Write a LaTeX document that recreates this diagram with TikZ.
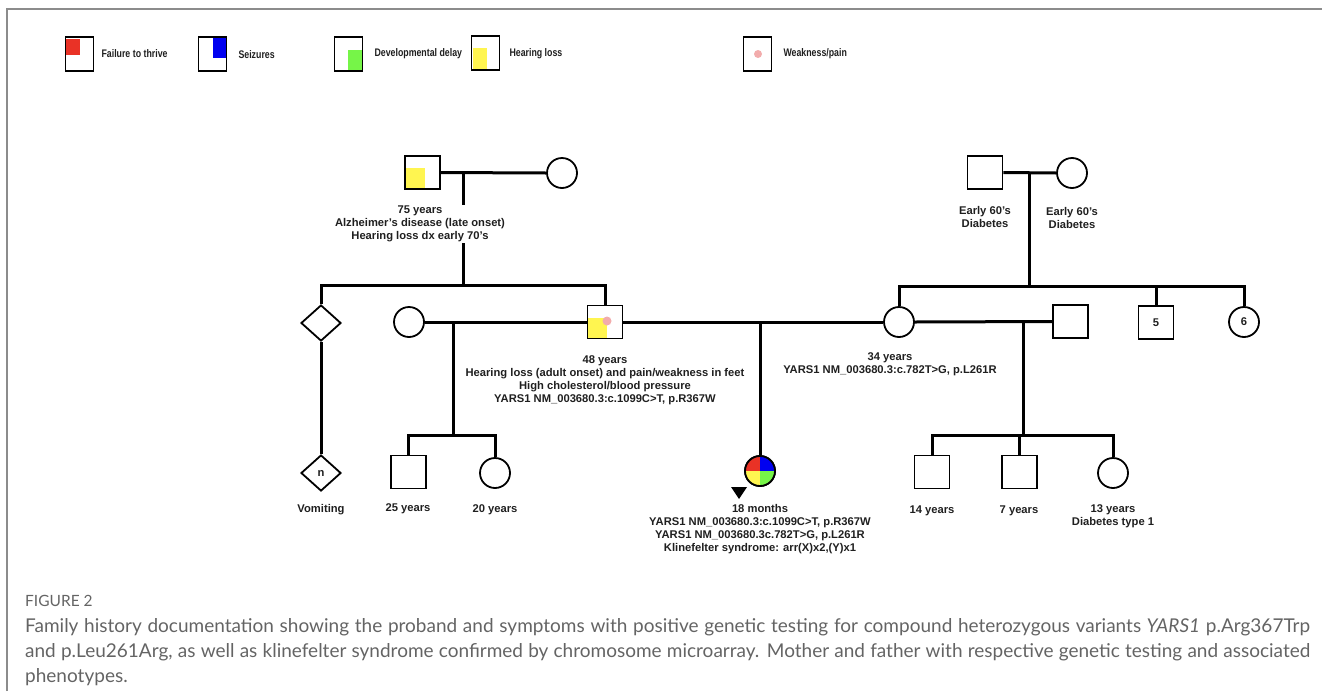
\documentclass[tikz,border=0pt]{standalone}
\usepackage{fontspec}
\setmainfont{Liberation Sans}
\newfontfamily\capfont{Lato}
\newfontfamily\narrowfont[FakeStretch=0.8]{Liberation Sans}
\usepackage{tikz}
\usetikzlibrary{shapes.geometric,positioning,calc}

\definecolor{fttred}{RGB}{233,50,38}
\definecolor{seizblue}{RGB}{0,0,240}
\definecolor{devgreen}{RGB}{118,245,72}
\definecolor{hearyellow}{RGB}{255,245,80}
\definecolor{weakpink}{RGB}{242,172,172}
\definecolor{framegray}{RGB}{140,140,140}
\definecolor{capgray}{RGB}{100,100,100}

\begin{document}
\begin{tikzpicture}[x=1pt, y=-1pt,
  every node/.style={font=\bfseries\fontsize{11.2}{13}\selectfont, text=black!88, align=center},
  male/.style={draw, line width=1.8pt, minimum width=35pt, minimum height=33pt, inner sep=0pt},
  female/.style={draw, circle, line width=1.8pt, minimum size=30pt, inner sep=0pt},
  sexunknown/.style={draw, diamond, line width=1.8pt, minimum width=40pt, minimum height=36pt, inner sep=0pt},
  legendbox/.style={draw, line width=1.6pt, minimum width=28pt, minimum height=34pt, inner sep=0pt},
  legendtext/.style={anchor=west, font=\narrowfont\bfseries\fontsize{11}{12}\selectfont},
  famline/.style={line width=3pt},
  captext/.style={anchor=west, inner sep=0pt, text=capgray, font=\capfont\fontsize{19}{22}\selectfont}]
    \useasboundingbox (0,0) rectangle (1322,691);
    \draw[framegray, line width=1.5pt] (7,691) -- (7,9) -- (1322,9);

    % Legend
    \node[legendbox] (keyftt) at (79.5,54) {};
    \fill[fttred] (66,39) rectangle (80,55);
    \node[legendtext] (keyfttlbl) at (98,54) {Failure to thrive};
    \node[legendbox] (keyseiz) at (212.5,54) {};
    \fill[seizblue] (213,38) rectangle (226,58);
    \node[legendtext] (keyseizlbl) at (235,55) {Seizures};
    \node[legendbox] (keydev) at (348.5,54) {};
    \fill[devgreen] (348,50) rectangle (362,70);
    \node[legendtext] (keydevlbl) at (371,54) {Developmental delay};
    \node[legendbox] (keyhear) at (485.5,53) {};
    \fill[hearyellow] (473,48) rectangle (487,69);
    \node[legendtext] (keyhearlbl) at (506,54) {Hearing loss};
    \node[legendbox] (keyweak) at (757.5,54) {};
    \fill[weakpink] (758,54) circle[radius=4];
    \node[legendtext] (keyweaklbl) at (780,54) {Weakness/pain};

    % Paternal side
    \node[male] (pgf) at (422.5,172.5) {};
    \fill[hearyellow] (406,168) rectangle (425,188);
    \node[female] (pgm) at (562,173) {};
    \coordinate (pgd) at (463,172);
    \coordinate (pgs) at (463,285);
    \draw[famline] (pgf.east) -- (pgm.west);
    \draw[famline] (pgd) -- (pgs);
    \node[fill=white, inner sep=1pt] (pgfinfo) at (420,224) {75 years\\Alzheimer’s disease (late onset)\\Hearing loss dx early 70’s};

    \node[sexunknown] (unk) at (321,323) {};
    \node[sexunknown] (unkn) at (321,473) {n};
    \node[female] (fp1) at (409,322) {};
    \node[male] (fa) at (605,322) {};
    \fill[hearyellow] (588,318) rectangle (607,338);
    \fill[weakpink] (607,321) circle[radius=4.5];
    \draw[famline] (unk.north) |- (pgs) -| (fa.north);
    \draw[famline] (unk.south) -- (unkn.north);
    \draw[famline] (fp1.east) -- (fa.west);
    \node (unknlbl) at (321,510) {Vomiting};

    \coordinate (c1) at (453,322);
    \coordinate (s1) at (453,435);
    \node[male] (son25) at (408.5,472) {};
    \node[female] (dau20) at (495,473) {};
    \draw[famline] (c1) -- (s1);
    \draw[famline] (son25.north) |- (s1) -| (dau20.north);
    \node (son25lbl) at (408,509) {25 years};
    \node (dau20lbl) at (495,510) {20 years};
    \node (fainfo) at (605,380.5) {48 years\\Hearing loss (adult onset) and pain/weakness in feet\\High cholesterol/blood pressure\\YARS1 NM\_003680.3:c.1099C>T, p.R367W};

    % Maternal side
    \node[male] (mgf) at (985,172.5) {};
    \node[female] (mgm) at (1072,173) {};
    \coordinate (mgd) at (1029,172);
    \coordinate (mgs) at (1029,286);
    \draw[famline] (mgf.east) -- (mgm.west);
    \draw[famline] (mgd) -- (mgs);
    \node (mgfinfo) at (985,216.5) {Early 60’s\\Diabetes};
    \node (mgminfo) at (1072,217.5) {Early 60’s\\Diabetes};

    \node[female] (mo) at (899,322) {};
    \node[male] (sib5) at (1156,322.5) {5};
    \node[female] (sib6) at (1244,322) {6};
    \draw[famline] (mo.north) |- (mgs) -| (sib6.north);
    \draw[famline] (sib5.north) -- (sib5.north |- mgs);
    \node (moinfo) at (890,364.5) {34 years\\YARS1 NM\_003680.3:c.782T>G, p.L261R};

    \node[male] (mp2) at (1070.5,321.5) {};
    \draw[famline] (fa.east) -- (mo.west);
    \draw[famline] (mo.east) -- (mp2.west);
    \coordinate (c3) at (1023,322);
    \coordinate (s3) at (1023,435);
    \node[male] (son14) at (932,472) {};
    \node[male] (son7) at (1019.5,472) {};
    \node[female] (dau13) at (1113,473) {};
    \draw[famline] (c3) -- (s3);
    \draw[famline] (son14.north) |- (s3) -| (dau13.north);
    \draw[famline] (son7.north) -- (son7.north |- s3);
    \node (son14lbl) at (932,511) {14 years};
    \node (son7lbl) at (1019,511) {7 years};
    \node (dau13info) at (1113,516) {13 years\\Diabetes type 1};

    % Proband
    \coordinate (c2) at (760,322);
    \node[female] (pro) at (760,471) {};
    \draw[famline] (c2) -- (pro.north);
    \begin{scope}
      \clip (pro.center) circle[radius=15];
      \fill[fttred] (pro.center) rectangle ++(-16,-16);
      \fill[seizblue] (pro.center) rectangle ++(16,-16);
      \fill[hearyellow] (pro.center) rectangle ++(-16,16);
      \fill[devgreen] (pro.center) rectangle ++(16,16);
    \end{scope}
    \draw[line width=1.8pt] (pro.center) circle[radius=15];
    \fill (731,487) -- (747,487) -- (739,499) -- cycle;
    \node (proinfo) at (760,529.5) {18 months\\YARS1 NM\_003680.3:c.1099C>T, p.R367W\\YARS1 NM\_003680.3c.782T>G, p.L261R\\Klinefelter syndrome: arr(X)x2,(Y)x1};

    % Caption
    \node[captext, font=\capfont\fontsize{15.5}{18}\selectfont] (figlabel) at (25,601) {FIGURE 2};
    \node[captext] (capone) at (25,627) {\makebox[1285pt][s]{Family history documentation showing the proband and symptoms with positive genetic testing for compound heterozygous variants \textit{YARS1} p.Arg367Trp}};
    \node[captext] (captwo) at (25,652) {\makebox[1285pt][s]{and p.Leu261Arg, as well as klinefelter syndrome confirmed by chromosome microarray. Mother and father with respective genetic testing and associated}};
    \node[captext] (capthree) at (25,677) {phenotypes.};
\end{tikzpicture}
\end{document}
